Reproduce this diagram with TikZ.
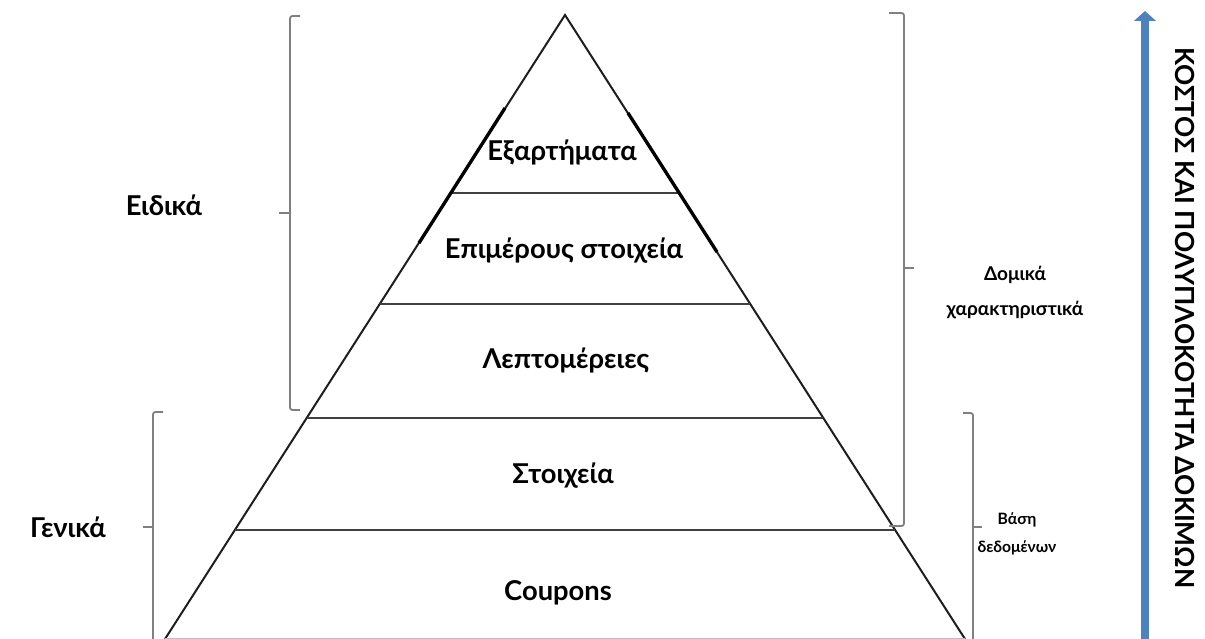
\documentclass[tikz,border=0pt]{standalone}
\usepackage{fontspec}
\setmainfont{Lato}
\usetikzlibrary{arrows.meta}
\definecolor{arrowblue}{HTML}{4F81BD}
\definecolor{bracketgray}{HTML}{808080}
\definecolor{edgegray}{HTML}{1E1E1E}
\tikzset{
  lbl/.style={font=\bfseries\fontsize{16.4}{20}\selectfont, inner sep=0pt, anchor=center},
  sidelbl/.style={font=\bfseries\fontsize{11.4}{14}\selectfont, inner sep=0pt, align=center},
  smalllbl/.style={font=\bfseries\fontsize{9.4}{17}\selectfont, inner sep=0pt, align=center},
  edge/.style={draw=edgegray, line width=1.2pt},
  level/.style={draw=edgegray!85, line width=1.2pt},
  overlay/.style={draw=black, line width=2pt},
  brace/.style={draw=bracketgray, line width=1.1pt, rounded corners=1.5pt},
}
\begin{document}
\begin{tikzpicture}[x=0.6pt, y=-0.6pt]
\useasboundingbox (0,0) rectangle (1205,639);
% triangle
\coordinate (apex) at (565,15);
\coordinate (bl) at (165,639);
\coordinate (br) at (965,639);
\draw[edge] (bl) -- (apex) -- (br);
\draw[draw=black!25, line width=1pt] (bl) -- (br);
% level lines
\foreach \y/\n in {193/a,304/b,418/c,530/d}{
  \pgfmathsetmacro{\dx}{0.641*(\y-15)}
  \coordinate (L\n) at ({565-\dx},\y);
  \coordinate (R\n) at ({565+\dx},\y);
  \draw[level] (L\n) -- (R\n);
}
% thick overlay segments
\coordinate (o1) at (505,108);
\coordinate (o2) at (419,243);
\coordinate (o3) at (628,113);
\coordinate (o4) at (717,252);
\draw[overlay] (o1) -- (o2);
\draw[overlay] (o3) -- (o4);
% level labels
\node[lbl] (t1) at (562,152) {Εξαρτήματα};
\node[lbl] (t2) at (564,251) {Επιμέρους στοιχεία};
\node[lbl] (t3) at (566,360) {Λεπτομέρειες};
\node[lbl] (t4) at (563,476) {Στοιχεία};
\node[lbl] (t5) at (558,593) {Coupons};
% brackets
\draw[brace] (300,16) -- (290,16) -- (290,410) -- (300,410);
\draw[brace] (290,213) -- (279,213);
\draw[brace] (889,13) -- (904,13) -- (904,526) -- (889,526);
\draw[brace] (904,268) -- (914,268);
\draw[brace] (163,412) -- (153,412) -- (153,645);
\draw[brace] (153,527) -- (143,527);
\draw[brace] (963,413) -- (973,413) -- (973,645);
\draw[brace] (973,527) -- (982,527);
% side labels
\node[lbl] (eidika) at (164,205) {Ειδικά};
\node[lbl] (genika) at (68,527) {Γενικά};
\node[sidelbl] (domika) at (1015,293) {Δομικά\\[7pt]χαρακτηριστικά};
\node[smalllbl] (vasi) at (1017,534) {Βάση\\δεδομένων};
% arrow
\coordinate (abot) at (1145,645);
\coordinate (atop) at (1145,11);
\draw[arrowblue, line width=4.8pt, -{Triangle[width=13pt,length=6pt]}] (abot) -- (atop);
\node[lbl, rotate=-90, font=\bfseries\fontsize{15.8}{20}\selectfont] (cost) at (1185,318) {ΚΟΣΤΟΣ ΚΑΙ ΠΟΛΥΠΛΟΚΟΤΗΤΑ ΔΟΚΙΜΩΝ};
\end{tikzpicture}
\end{document}
